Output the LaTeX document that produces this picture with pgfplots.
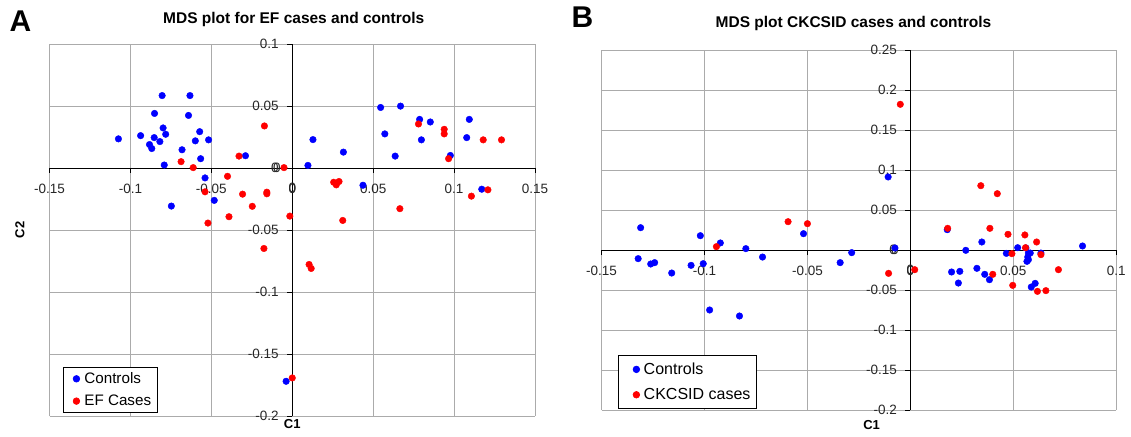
\documentclass[border=0pt]{standalone}
\usepackage{fontspec}
\setmainfont{Liberation Sans}
\usepackage{pgfplots}
\pgfplotsset{compat=1.18}

\tikzset{zerolab/.style={font=\fontsize{13.5}{15}\selectfont, text=black!85, inner sep=0pt}}

\pgfplotsset{
  mdsstyle/.style={
    scale only axis,
    axis lines=center,
    hide obscured x ticks=false,
    hide obscured y ticks=false,
    axis line style={black, line width=0.7pt, -},
    grid=major,
    major grid style={draw=black!33, line width=0.9pt},
    tick style={black, line width=0.7pt},
    major tick length=5pt,
    tick align=outside,
    /pgf/number format/assume math mode=true,
    tick label style={font=\fontsize{13.5}{15}\selectfont, text=black!85},
    xticklabel style={yshift=-8pt},
    yticklabel style={xshift=-5pt},
    label style={font=\fontsize{13}{15}\selectfont\bfseries},
    title style={font=\fontsize{15.5}{18}\selectfont\bfseries},
    legend style={draw=black, line width=0.7pt, fill=white,
      nodes={inner sep=2pt}, inner xsep=4pt,
      cells={anchor=west}},
    ctrl/.style={only marks, mark=*, mark size=3.3pt, mark options={draw=blue, fill=blue}},
    cas/.style={only marks, mark=*, mark size=3.3pt, mark options={draw=red, fill=red}},
  }
}

\begin{document}
\begin{tikzpicture}
\useasboundingbox (0pt,0pt) rectangle (1131pt,436pt);

% ---------------- Panel A ----------------
\node[font=\fontsize{30}{32}\selectfont\bfseries] at (20.5pt,414.5pt) {A};
\begin{axis}[mdsstyle,
  at={(49.5pt,20pt)}, anchor=south west,
  width=485.5pt, height=372pt,
  xmin=-0.15, xmax=0.15, ymin=-0.2, ymax=0.1,
  xtick={-0.15,-0.1,-0.05,0,0.05,0.1,0.15},
  xticklabels={-0.15,-0.1,-0.05,0,0.05,0.1,0.15},
  ytick={-0.2,-0.15,-0.1,-0.05,0,0.05,0.1},
  yticklabels={-0.2,-0.15,-0.1,-0.05,0,0.05,0.1},
  title={MDS plot for EF cases and controls},
  title style={at={(axis description cs:0.503,1)}, anchor=center, yshift=19pt},
  xlabel={C1},
  xlabel style={at={(axis description cs:0.5,0)}, anchor=center, yshift=-8pt},
  ylabel={C2},
  ylabel style={at={(axis description cs:-0.061,0.5)}, anchor=center, rotate=90},
  legend style={at={(axis description cs:0.0285,0.1325)}, anchor=north west,
    font=\fontsize{15.2}{17}\selectfont, inner ysep=3.5pt, row sep=6pt},
  legend image code/.code={\path (0pt,0pt) (14pt,0pt); \draw[mark repeat=2,mark phase=2,#1] plot coordinates {(0pt,0pt)(8.4pt,0pt)(14pt,0pt)};},
]
\addplot[ctrl] coordinates {
(-0.1074,0.0235) (-0.0937,0.0261) (-0.0804,0.0584) (-0.0632,0.0584)
(-0.0851,0.0440) (-0.0798,0.0323) (-0.0782,0.0272) (-0.0853,0.0245)
(-0.0818,0.0213) (-0.0882,0.0189) (-0.0868,0.0157) (-0.0791,0.0024)
(-0.0641,0.0424) (-0.0572,0.0293) (-0.0599,0.0219) (-0.0517,0.0227)
(-0.0681,0.0147) (-0.0566,0.0075) (-0.0539,-0.0080) (-0.0482,-0.0261)
(-0.0747,-0.0307) (-0.0289,0.0099) (0.0097,0.0021) (0.0128,0.0229)
(0.0316,0.0128) (0.0437,-0.0139) (0.0546,0.0488) (0.0669,0.0499)
(0.0572,0.0275) (0.0636,0.0096) (0.0787,0.0392) (0.0853,0.0371)
(0.0798,0.0227) (0.1094,0.0392) (0.1078,0.0245) (0.0977,0.0101)
(0.1171,-0.0171) (-0.0038,-0.1720)
};
\addlegendentry{Controls}
\addplot[cas] coordinates {
(-0.0172,0.0339) (-0.0687,0.0051) (-0.0612,0.0003) (-0.0329,0.0096)
(-0.0051,0.0003) (-0.0400,-0.0067) (-0.0539,-0.0192) (-0.0307,-0.0211)
(-0.0157,-0.0195) (-0.0157,-0.0208) (-0.0247,-0.0309) (0.0256,-0.0115)
(0.0289,-0.0109) (0.0272,-0.0136) (0.0665,-0.0328) (0.0780,0.0355)
(0.0939,0.0312) (0.0939,0.0275) (0.0966,0.0075) (0.1180,0.0227)
(0.1293,0.0227) (0.1209,-0.0176) (0.1107,-0.0227) (-0.0521,-0.0444)
(-0.0391,-0.0393) (-0.0015,-0.0388) (0.0312,-0.0423) (-0.0175,-0.0649)
(0.0104,-0.0778) (0.0117,-0.0810) (0.0000,-0.1693)
};
\addlegendentry{EF Cases}
\node[zerolab, anchor=center, yshift=-19.5pt] at (axis cs:0,0) {0};
\node[zerolab, anchor=east, xshift=-11.5pt] at (axis cs:0,0) {0};
\end{axis}

% ---------------- Panel B ----------------
\node[font=\fontsize{30}{32}\selectfont\bfseries, anchor=west] at (568pt,419pt) {B};
\begin{axis}[mdsstyle,
  at={(601.5pt,26pt)}, anchor=south west,
  width=514.8pt, height=360pt,
  xmin=-0.15, xmax=0.1, ymin=-0.2, ymax=0.25,
  xtick={-0.15,-0.1,-0.05,0,0.05,0.1},
  xticklabels={-0.15,-0.1,-0.05,0,0.05,0.1},
  ytick={-0.2,-0.15,-0.1,-0.05,0,0.05,0.1,0.15,0.2,0.25},
  yticklabels={-0.2,-0.15,-0.1,-0.05,0,0.05,0.1,0.15,0.2,0.25},
  title={MDS plot CKCSID cases and controls},
  title style={at={(axis description cs:0.4895,1)}, anchor=center, yshift=21pt},
  xlabel={C1},
  xlabel style={at={(axis description cs:0.5247,0)}, anchor=center, yshift=-15pt},
  legend style={at={(axis description cs:0.0326,0.1528)}, anchor=north west,
    font=\fontsize{16}{18}\selectfont, inner ysep=5.5pt, row sep=8.5pt},
  legend image code/.code={\path (0pt,0pt) (18.4pt,0pt); \draw[mark repeat=2,mark phase=2,#1] plot coordinates {(0pt,0pt)(13.4pt,0pt)(18.4pt,0pt)};},
]
\addplot[ctrl] coordinates {
(-0.0108,0.0913)
(-0.1310,0.0279) (-0.1322,-0.0108) (-0.1261,-0.0175) (-0.1242,-0.0158)
(-0.1159,-0.0288) (-0.1065,-0.0192) (-0.1006,-0.0171) (-0.1020,0.0179)
(-0.0923,0.0088) (-0.0975,-0.0750) (-0.0830,-0.0825) (-0.0799,0.0017)
(-0.0718,-0.0088) (-0.0519,0.0204) (-0.0341,-0.0158) (-0.0285,-0.0033)
(-0.0075,0.0025) (0.0179,0.0254) (0.0200,-0.0275) (0.0240,-0.0267)
(0.0233,-0.0413) (0.0269,-0.0004) (0.0323,-0.0229) (0.0347,0.0100)
(0.0361,-0.0304) (0.0384,-0.0371) (0.0466,-0.0042) (0.0521,0.0029)
(0.0561,0.0025) (0.0573,-0.0038) (0.0582,-0.0038) (0.0570,-0.0088)
(0.0566,-0.0142) (0.0573,-0.0121) (0.0587,-0.0463) (0.0606,-0.0417)
(0.0634,-0.0038) (0.0836,0.0050)
};
\addlegendentry{Controls}
\addplot[cas] coordinates {
(-0.0049,0.1821) (0.0342,0.0804) (0.0422,0.0704)
(-0.0594,0.0354) (-0.0500,0.0329) (-0.0942,0.0042) (-0.0106,-0.0292)
(0.0021,-0.0246) (0.0181,0.0271) (0.0386,0.0271) (0.0400,-0.0304)
(0.0474,0.0196) (0.0493,-0.0046) (0.0497,-0.0442) (0.0556,0.0188)
(0.0559,0.0029) (0.0613,0.0100) (0.0634,-0.0058) (0.0617,-0.0517)
(0.0658,-0.0508) (0.0719,-0.0246)
};
\addlegendentry{CKCSID cases}
\node[zerolab, anchor=center, yshift=-19.5pt] at (axis cs:0,0) {0};
\node[zerolab, anchor=east, xshift=-11.5pt] at (axis cs:0,0) {0};
\end{axis}
\end{tikzpicture}
\end{document}
